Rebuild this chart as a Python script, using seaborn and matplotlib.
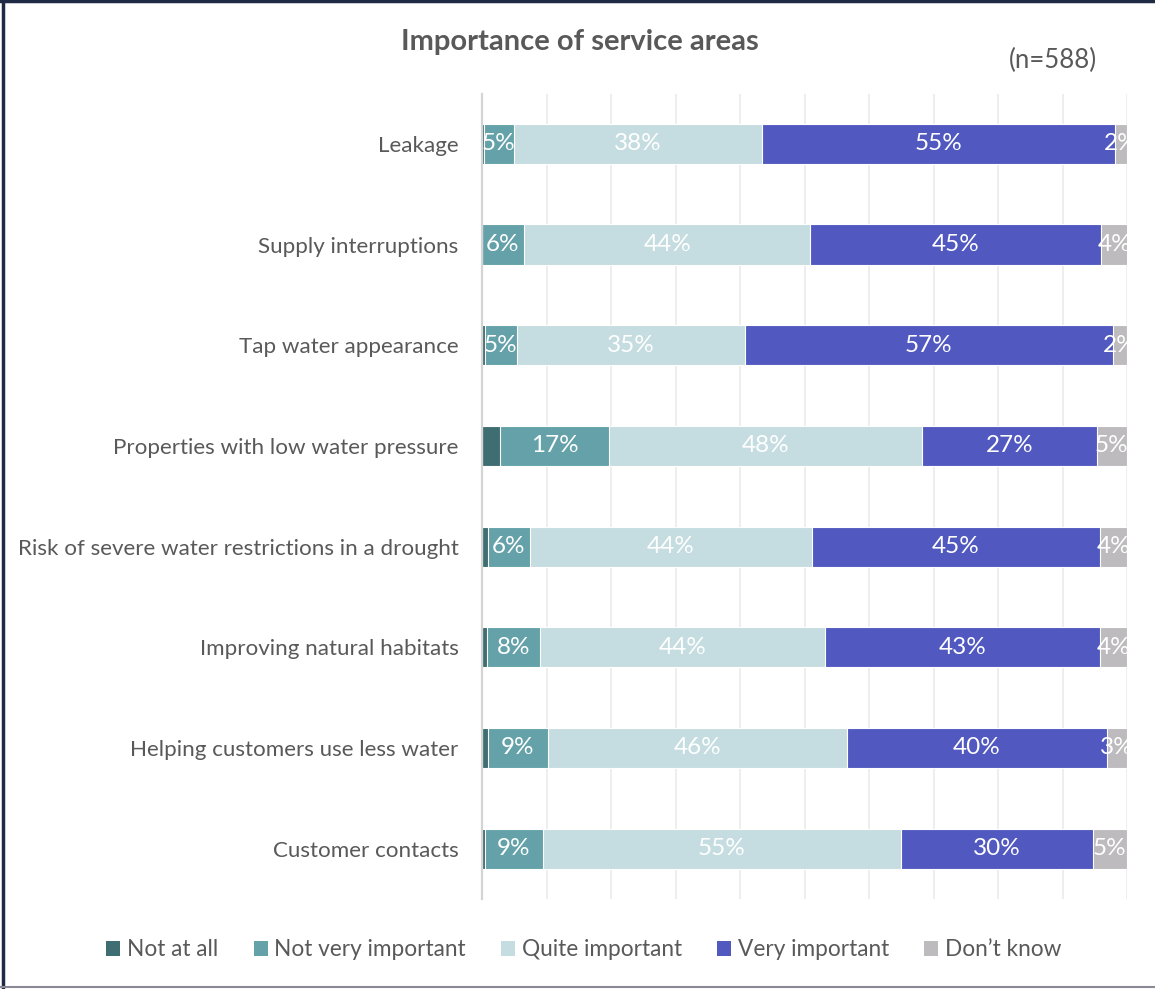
import matplotlib
matplotlib.use("Agg")
import matplotlib.pyplot as plt
import seaborn as sns
import pandas as pd
import numpy as np

# Survey results: share of respondents (%) per rating, by service area
areas = [
    "Leakage",
    "Supply interruptions",
    "Tap water appearance",
    "Properties with low water pressure",
    "Risk of severe water restrictions in a drought",
    "Improving natural habitats",
    "Helping customers use less water",
    "Customer contacts",
]
not_at_all = [0.3, 0.0, 0.4, 2.8, 0.9, 0.8, 0.9, 0.4]
not_very = [4.6, 6.5, 5.0, 16.9, 6.5, 8.2, 9.3, 9.1]
quite = [38.5, 44.4, 35.3, 48.5, 43.8, 44.2, 46.4, 55.4]
very = [54.7, 45.0, 57.1, 27.1, 44.6, 42.6, 40.3, 29.8]
dont_know = [1.9, 4.2, 2.2, 4.7, 4.2, 4.2, 3.1, 5.3]

ratings = ["Not at all", "Not very important", "Quite important",
           "Very important", "Don\u2019t know"]
colors = ["#3F6E72", "#64A1A9", "#C5DDE0", "#5159C1", "#BDBBBD"]
labelled = [False, True, True, True, True]

series = [not_at_all, not_very, quite, very, dont_know]
df = pd.DataFrame({r: v for r, v in zip(ratings, series)}, index=areas)
cum = df.cumsum(axis=1)

sns.set_theme(style="white")
plt.rcParams["font.family"] = ["Lato", "DejaVu Sans"]

fig = plt.figure(figsize=(11.55, 9.89), dpi=100)
ax = fig.add_axes([482 / 1155, 1 - 899 / 989, 645 / 1155, (899 - 93.6) / 989])

# Stacked bars: draw cumulative totals from the last rating back to the first
for r, c in reversed(list(zip(ratings, colors))):
    d = pd.DataFrame({"area": areas, "end": cum[r].values})
    sns.barplot(data=d, y="area", x="end", orient="h", color=c,
                width=0.4, edgecolor="white", linewidth=0.8,
                saturation=1, ax=ax, zorder=3)

# Segment value labels
for r, show in zip(ratings, labelled):
    if not show:
        continue
    ends = cum[r].values
    vals = df[r].values
    for i, (e, v) in enumerate(zip(ends, vals)):
        ax.text(e - v / 2, i, f"{round(v):.0f}%", ha="center", va="center",
                color="white", fontsize=17.5, zorder=5, clip_on=True)

ax.set_xlim(0, 100)
ax.set_ylim(len(areas) - 0.5, -0.5)
ax.set_xticks(np.arange(0, 101, 10))
ax.set_xticklabels([])
ax.tick_params(axis="x", length=0)
ax.tick_params(axis="y", length=0, pad=17, labelsize=16.1, labelcolor="#595959")
ax.set_xlabel("")
ax.set_ylabel("")
ax.grid(axis="x", color="#EBEBEB", linewidth=1.2, zorder=0)
ax.set_axisbelow(True)
for s in ["top", "right", "bottom"]:
    ax.spines[s].set_visible(False)
ax.spines["left"].set_color("#D4D4D4")
ax.spines["left"].set_linewidth(1.6)
ax.spines["left"].set_zorder(6)

fig.text(580 / 1155, 1 - 42 / 989, "Importance of service areas", ha="center",
         va="center", fontsize=21, fontweight="bold", color="#595959")
fig.text(1053 / 1155, 1 - 60 / 989, "(n=588)", ha="center", va="center",
         fontsize=18.5, color="#595959")

handles = [plt.Rectangle((0, 0), 1, 1, facecolor=c, edgecolor="none") for c in colors]
leg = fig.legend(handles, ratings, loc="center", bbox_to_anchor=(584 / 1155, 1 - 950 / 989),
                 ncol=5, frameon=False, fontsize=16.3, handlelength=0.62,
                 handleheight=0.62, handletextpad=0.3, columnspacing=1.55)
for t in leg.get_texts():
    t.set_color("#595959")

# Outer frame lines
fig.add_artist(plt.Line2D([0, 1], [0.999, 0.999], transform=fig.transFigure,
                          color="#1F2A44", linewidth=2.5))
fig.add_artist(plt.Line2D([0.0025, 0.0025], [0, 1], transform=fig.transFigure,
                          color="#1F2A44", linewidth=2.5))
fig.add_artist(plt.Line2D([0, 1], [0.002, 0.002], transform=fig.transFigure,
                          color="#8A8A96", linewidth=1.5))

fig.savefig("out.png", dpi=100, facecolor="white")
